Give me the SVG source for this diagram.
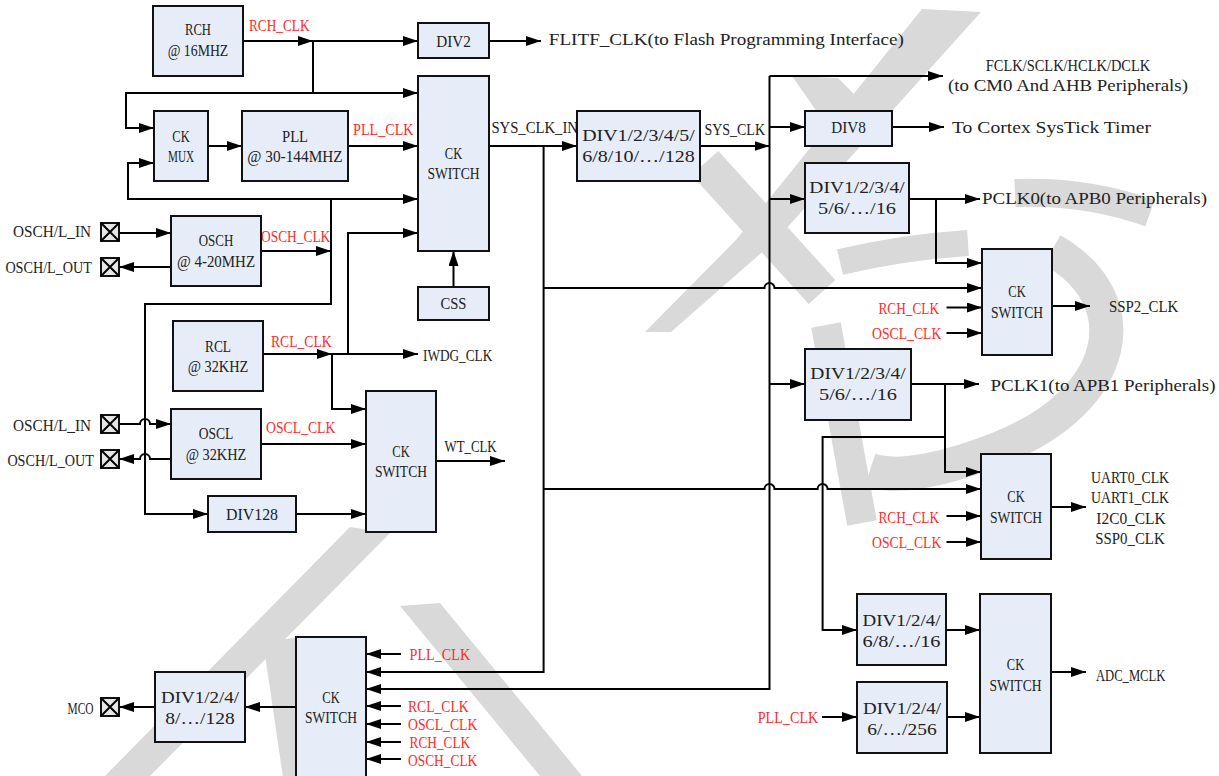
<svg xmlns="http://www.w3.org/2000/svg" width="1219" height="776" viewBox="0 0 1219 776">
<defs>
<marker id="ah" markerUnits="userSpaceOnUse" markerWidth="15" markerHeight="10" refX="15" refY="5" orient="auto"><path d="M0,0 L15,5 L0,10 z" fill="#000"/></marker>
<style>
.t{font-family:"Liberation Serif",serif;font-size:17px;fill:#222}
.r{fill:#ff2b2b}
.m{text-anchor:middle}
.box{fill:#e7edf8;stroke:#111;stroke-width:2}
.pin{fill:#e6e6e6;stroke:#111;stroke-width:2}
.ln{fill:none;stroke:#000;stroke-width:2}
.ar{fill:none;stroke:#000;stroke-width:2;marker-end:url(#ah)}
.wm{fill:#d9d9d9}
.ws{fill:none;stroke:#d9d9d9}
</style>
</defs>
<rect width="1219" height="776" fill="#fff"/>
<g id="watermark">
<path class="wm" d="M922,9 L981,12 L776,240 L671,332 L645,332 L736,240 Z"/>
<path class="wm" d="M792,76 L838,78 L872,112 L824,122 Z"/>
<path class="ws" stroke-width="36" d="M705,163 L822,292"/>
<path class="ws" stroke-width="28" d="M1015,193 Q1085,190 1150,213"/>
<path class="ws" stroke-width="26" d="M840,262 Q905,247 968,243"/>
<path class="ws" stroke-width="30" d="M826,325 L862,523"/>
<path class="ws" stroke-width="34" d="M1052,250 C1140,300 1120,400 1000,448 C950,468 900,480 870,470"/>
<path class="wm" d="M350,527 L390,533 L150,776 L105,776 Z"/>
<path class="wm" d="M400,606 L440,603 L582,776 L540,776 Z"/>
<path class="ws" stroke-width="34" d="M280,640 L300,776"/>
</g>
<g id="connectors">
<path class="ar" d="M243,41 H313"/>
<path class="ar" d="M313,41 H418"/>
<path class="ar" d="M313,41 V93 H126 V128 H154"/>
<path class="ar" d="M313,93 H418"/>
<path class="ar" d="M208,146 H242"/>
<path class="ar" d="M348,146 H418"/>
<path class="ar" d="M331,199 H128 V163 H154"/>
<path class="ar" d="M331,199 H418"/>
<path class="ar" d="M261,251 H331"/>
<path class="ar" d="M331,199 V304 H145 V514 H208"/>
<path class="ar" d="M489,41 H541"/>
<path class="ar" d="M263,354 H332"/>
<path class="ar" d="M332,354 H418"/>
<path class="ar" d="M348,354 V233 H418"/>
<path class="ar" d="M332,354 V409 H366"/>
<path class="ar" d="M261,444 H366"/>
<path class="ar" d="M296,514 H366"/>
<path class="ar" d="M436,461 H505"/>
<path class="ar" d="M453.5,287 V251"/>
<path class="ar" d="M119,233 H171"/>
<path class="ar" d="M171,267 H119"/>
<path class="ar" d="M119,424 H140 A5,5 0 0 1 150,424 H171"/>
<path class="ar" d="M171,459 H150 A5,5 0 0 0 140,459 H119"/>
<path class="ar" d="M489,146 H577"/>
<path class="ar" d="M543.6,146 V672 H366"/>
<path class="ar" d="M543.6,288 H764.5 A5,5 0 0 1 774.5,288 H982"/>
<path class="ar" d="M543.6,489 H764.5 A5,5 0 0 1 774.5,489 H817.6 A5,5 0 0 1 827.6,489 H981"/>
<path class="ar" d="M700,146 H769.5"/>
<path class="ar" d="M769.5,76 V689 H366"/>
<path class="ar" d="M769.5,76 H943"/>
<path class="ar" d="M769.5,127 H805"/>
<path class="ar" d="M769.5,199 H805"/>
<path class="ar" d="M769.5,384 H805"/>
<path class="ar" d="M892,127 H944"/>
<path class="ar" d="M909,199 H980"/>
<path class="ar" d="M936,199 V263 H982"/>
<path class="ar" d="M946.5,307.5 H982"/>
<path class="ar" d="M946.5,333 H982"/>
<path class="ar" d="M1052,306 H1090"/>
<path class="ar" d="M911,384 H979"/>
<path class="ar" d="M945,384 V472 H981"/>
<path class="ar" d="M945,437 H822.6 V630 H857"/>
<path class="ar" d="M946.5,516 H981"/>
<path class="ar" d="M946.5,542 H981"/>
<path class="ar" d="M1051,507 H1086"/>
<path class="ar" d="M946,630 H980"/>
<path class="ar" d="M947,717 H980"/>
<path class="ar" d="M822,717 H857"/>
<path class="ar" d="M1051,672 H1086"/>
<path class="ar" d="M401,654 H366"/>
<path class="ar" d="M401,706 H366"/>
<path class="ar" d="M401,724 H366"/>
<path class="ar" d="M401,742 H366"/>
<path class="ar" d="M401,759 H366"/>
<path class="ar" d="M296,707 H245"/>
<path class="ar" d="M155,707 H119"/>
</g>
<g id="labels">
<text class="t r" x="249" y="31" textLength="60.6" lengthAdjust="spacingAndGlyphs">RCH_CLK</text>
<text class="t r" x="353" y="135" textLength="60.6" lengthAdjust="spacingAndGlyphs">PLL_CLK</text>
<text class="t" x="548.8" y="44.5" textLength="355" lengthAdjust="spacingAndGlyphs">FLITF_CLK(to Flash Programming Interface)</text>
<text class="t" x="491.4" y="133.3" textLength="86.6" lengthAdjust="spacingAndGlyphs">SYS_CLK_IN</text>
<text class="t" x="704.4" y="135" textLength="60.6" lengthAdjust="spacingAndGlyphs">SYS_CLK</text>
<text class="t m" x="1068" y="70.5" textLength="164.5" lengthAdjust="spacingAndGlyphs">FCLK/SCLK/HCLK/DCLK</text>
<text class="t m" x="1068" y="91" textLength="240" lengthAdjust="spacingAndGlyphs">(to CM0 And AHB Peripherals)</text>
<text class="t" x="952" y="132.5" textLength="199" lengthAdjust="spacingAndGlyphs">To Cortex SysTick Timer</text>
<text class="t" x="982" y="204" textLength="225" lengthAdjust="spacingAndGlyphs">PCLK0(to APB0 Peripherals)</text>
<text class="t r" x="261" y="242" textLength="69.3" lengthAdjust="spacingAndGlyphs">OSCH_CLK</text>
<text class="t r" x="271" y="346.5" textLength="60.6" lengthAdjust="spacingAndGlyphs">RCL_CLK</text>
<text class="t" x="423" y="360.5" textLength="69.3" lengthAdjust="spacingAndGlyphs">IWDG_CLK</text>
<text class="t r" x="266" y="433" textLength="69.3" lengthAdjust="spacingAndGlyphs">OSCL_CLK</text>
<text class="t" x="444.6" y="451.5" textLength="52" lengthAdjust="spacingAndGlyphs">WT_CLK</text>
<text class="t r" x="878.4" y="313.5" textLength="60.6" lengthAdjust="spacingAndGlyphs">RCH_CLK</text>
<text class="t r" x="872" y="339" textLength="69.3" lengthAdjust="spacingAndGlyphs">OSCL_CLK</text>
<text class="t" x="1109" y="311.5" textLength="69.3" lengthAdjust="spacingAndGlyphs">SSP2_CLK</text>
<text class="t" x="990.5" y="390.5" textLength="225" lengthAdjust="spacingAndGlyphs">PCLK1(to APB1 Peripherals)</text>
<text class="t r" x="878.4" y="522.5" textLength="60.6" lengthAdjust="spacingAndGlyphs">RCH_CLK</text>
<text class="t r" x="872" y="548" textLength="69.3" lengthAdjust="spacingAndGlyphs">OSCL_CLK</text>
<text class="t m" x="1130" y="482.5" textLength="78" lengthAdjust="spacingAndGlyphs">UART0_CLK</text>
<text class="t m" x="1130" y="502.5" textLength="78" lengthAdjust="spacingAndGlyphs">UART1_CLK</text>
<text class="t m" x="1131" y="523.5" textLength="69.3" lengthAdjust="spacingAndGlyphs">I2C0_CLK</text>
<text class="t m" x="1130" y="544" textLength="69.3" lengthAdjust="spacingAndGlyphs">SSP0_CLK</text>
<text class="t" x="1096" y="680.5" textLength="69.3" lengthAdjust="spacingAndGlyphs">ADC_MCLK</text>
<text class="t r" x="757.7" y="723" textLength="60.6" lengthAdjust="spacingAndGlyphs">PLL_CLK</text>
<text class="t r" x="409.6" y="660" textLength="60.6" lengthAdjust="spacingAndGlyphs">PLL_CLK</text>
<text class="t r" x="408" y="711.5" textLength="60.6" lengthAdjust="spacingAndGlyphs">RCL_CLK</text>
<text class="t r" x="408" y="730" textLength="69.3" lengthAdjust="spacingAndGlyphs">OSCL_CLK</text>
<text class="t r" x="409.6" y="748" textLength="60.6" lengthAdjust="spacingAndGlyphs">RCH_CLK</text>
<text class="t r" x="408" y="765.5" textLength="69.3" lengthAdjust="spacingAndGlyphs">OSCH_CLK</text>
</g>
<g id="pin-osch-in"><rect class="pin" x="101" y="223" width="18" height="18"/><path class="ln" d="M101,223 L119,241 M119,223 L101,241"/><text class="t" x="91" y="237" text-anchor="end" textLength="78" lengthAdjust="spacingAndGlyphs">OSCH/L_IN</text></g>
<g id="pin-osch-out"><rect class="pin" x="101" y="258" width="18" height="18"/><path class="ln" d="M101,258 L119,276 M119,258 L101,276"/><text class="t" x="92" y="272.5" text-anchor="end" textLength="86.6" lengthAdjust="spacingAndGlyphs">OSCH/L_OUT</text></g>
<g id="pin-oscl-in"><rect class="pin" x="101" y="415" width="18" height="18"/><path class="ln" d="M101,415 L119,433 M119,415 L101,433"/><text class="t" x="91" y="430.5" text-anchor="end" textLength="78" lengthAdjust="spacingAndGlyphs">OSCH/L_IN</text></g>
<g id="pin-oscl-out"><rect class="pin" x="101" y="450" width="18" height="18"/><path class="ln" d="M101,450 L119,468 M119,450 L101,468"/><text class="t" x="94" y="465.5" text-anchor="end" textLength="86.6" lengthAdjust="spacingAndGlyphs">OSCH/L_OUT</text></g>
<g id="pin-mco"><rect class="pin" x="101" y="698" width="18" height="18"/><path class="ln" d="M101,698 L119,716 M119,698 L101,716"/><text class="t" x="93.6" y="714" text-anchor="end" textLength="26" lengthAdjust="spacingAndGlyphs">MCO</text></g>
<g id="rch"><rect class="box" x="153" y="6" width="90" height="70"/><text class="t m" x="198" y="35" textLength="26" lengthAdjust="spacingAndGlyphs">RCH</text><text class="t m" x="198" y="56" textLength="60.6" lengthAdjust="spacingAndGlyphs">@ 16MHZ</text></g>
<g id="div2"><rect class="box" x="418" y="23" width="71" height="35"/><text class="t m" x="453.5" y="46.5" textLength="34.6" lengthAdjust="spacingAndGlyphs">DIV2</text></g>
<g id="ckmux"><rect class="box" x="154" y="111" width="54" height="70"/><text class="t m" x="181" y="142" textLength="17.3" lengthAdjust="spacingAndGlyphs">CK</text><text class="t m" x="181" y="162" textLength="26" lengthAdjust="spacingAndGlyphs">MUX</text></g>
<g id="pll"><rect class="box" x="242" y="111" width="106" height="70"/><text class="t m" x="295" y="142" textLength="26" lengthAdjust="spacingAndGlyphs">PLL</text><text class="t m" x="295" y="162" textLength="95.3" lengthAdjust="spacingAndGlyphs">@ 30-144MHZ</text></g>
<g id="ckswitch-sys"><rect class="box" x="418" y="76" width="71" height="175"/><text class="t m" x="453.5" y="158.5" textLength="17.3" lengthAdjust="spacingAndGlyphs">CK</text><text class="t m" x="453.5" y="179" textLength="52" lengthAdjust="spacingAndGlyphs">SWITCH</text></g>
<g id="osch"><rect class="box" x="171" y="216" width="90" height="70"/><text class="t m" x="216" y="246" textLength="34.6" lengthAdjust="spacingAndGlyphs">OSCH</text><text class="t m" x="216" y="267" textLength="78" lengthAdjust="spacingAndGlyphs">@ 4-20MHZ</text></g>
<g id="css"><rect class="box" x="418" y="287" width="71" height="33"/><text class="t m" x="453.5" y="309" textLength="26" lengthAdjust="spacingAndGlyphs">CSS</text></g>
<g id="rcl"><rect class="box" x="173" y="321" width="90" height="70"/><text class="t m" x="218" y="351.5" textLength="26" lengthAdjust="spacingAndGlyphs">RCL</text><text class="t m" x="218" y="372" textLength="60.6" lengthAdjust="spacingAndGlyphs">@ 32KHZ</text></g>
<g id="oscl"><rect class="box" x="171" y="409" width="90" height="70"/><text class="t m" x="216" y="439" textLength="34.6" lengthAdjust="spacingAndGlyphs">OSCL</text><text class="t m" x="216" y="460" textLength="60.6" lengthAdjust="spacingAndGlyphs">@ 32KHZ</text></g>
<g id="div128"><rect class="box" x="208" y="496" width="88" height="36"/><text class="t m" x="252" y="520" textLength="52" lengthAdjust="spacingAndGlyphs">DIV128</text></g>
<g id="ckswitch-wt"><rect class="box" x="366" y="391" width="70" height="141"/><text class="t m" x="401" y="457" textLength="17.3" lengthAdjust="spacingAndGlyphs">CK</text><text class="t m" x="401" y="477" textLength="52" lengthAdjust="spacingAndGlyphs">SWITCH</text></g>
<g id="div-sys"><rect class="box" x="577" y="111" width="123" height="70"/><text class="t m" x="638.5" y="140.5" textLength="112.6" lengthAdjust="spacingAndGlyphs">DIV1/2/3/4/5/</text><text class="t m" x="638.5" y="161.5" textLength="112.6" lengthAdjust="spacingAndGlyphs">6/8/10/…/128</text></g>
<g id="div8"><rect class="box" x="805" y="111" width="87" height="35"/><text class="t m" x="848.5" y="132.5" textLength="34.6" lengthAdjust="spacingAndGlyphs">DIV8</text></g>
<g id="div-pclk0"><rect class="box" x="805" y="163" width="104" height="70"/><text class="t m" x="857" y="193" textLength="95.3" lengthAdjust="spacingAndGlyphs">DIV1/2/3/4/</text><text class="t m" x="857" y="214" textLength="78" lengthAdjust="spacingAndGlyphs">5/6/…/16</text></g>
<g id="ckswitch-ssp2"><rect class="box" x="982" y="249" width="70" height="106"/><text class="t m" x="1017" y="297" textLength="17.3" lengthAdjust="spacingAndGlyphs">CK</text><text class="t m" x="1017" y="318" textLength="52" lengthAdjust="spacingAndGlyphs">SWITCH</text></g>
<g id="div-pclk1"><rect class="box" x="805" y="349" width="106" height="71"/><text class="t m" x="858" y="379" textLength="95.3" lengthAdjust="spacingAndGlyphs">DIV1/2/3/4/</text><text class="t m" x="858" y="400" textLength="78" lengthAdjust="spacingAndGlyphs">5/6/…/16</text></g>
<g id="ckswitch-uart"><rect class="box" x="981" y="454" width="70" height="105"/><text class="t m" x="1016" y="502" textLength="17.3" lengthAdjust="spacingAndGlyphs">CK</text><text class="t m" x="1016" y="523" textLength="52" lengthAdjust="spacingAndGlyphs">SWITCH</text></g>
<g id="div-adc1"><rect class="box" x="857" y="594" width="89" height="71"/><text class="t m" x="901.5" y="626" textLength="78" lengthAdjust="spacingAndGlyphs">DIV1/2/4/</text><text class="t m" x="901.5" y="647" textLength="78" lengthAdjust="spacingAndGlyphs">6/8/…/16</text></g>
<g id="div-adc2"><rect class="box" x="857" y="682" width="90" height="71"/><text class="t m" x="902" y="714" textLength="78" lengthAdjust="spacingAndGlyphs">DIV1/2/4/</text><text class="t m" x="902" y="735" textLength="69.3" lengthAdjust="spacingAndGlyphs">6/…/256</text></g>
<g id="ckswitch-adc"><rect class="box" x="980" y="594" width="71" height="159"/><text class="t m" x="1015.5" y="670" textLength="17.3" lengthAdjust="spacingAndGlyphs">CK</text><text class="t m" x="1015.5" y="690.5" textLength="52" lengthAdjust="spacingAndGlyphs">SWITCH</text></g>
<g id="ckswitch-mco"><rect class="box" x="296" y="637" width="70" height="150"/><text class="t m" x="331" y="702.5" textLength="17.3" lengthAdjust="spacingAndGlyphs">CK</text><text class="t m" x="331" y="723" textLength="52" lengthAdjust="spacingAndGlyphs">SWITCH</text></g>
<g id="div-mco"><rect class="box" x="155" y="672" width="90" height="70"/><text class="t m" x="200" y="702.5" textLength="78" lengthAdjust="spacingAndGlyphs">DIV1/2/4/</text><text class="t m" x="200" y="723.5" textLength="69.3" lengthAdjust="spacingAndGlyphs">8/…/128</text></g>
</svg>
